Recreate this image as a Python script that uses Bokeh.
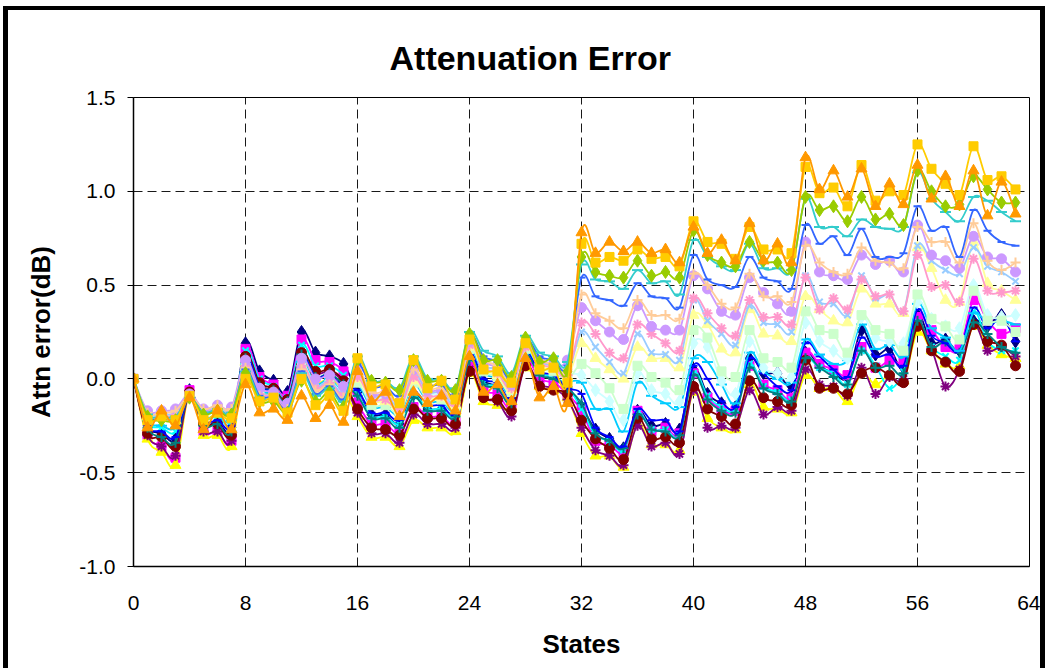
import numpy as np
from bokeh.plotting import figure
from bokeh.layouts import column
from bokeh.models import FixedTicker, NumeralTickFormatter, Range1d, ColumnDataSource
from bokeh.embed import file_html
from bokeh.resources import INLINE

states = list(range(64))
x_ticks = [0, 8, 16, 24, 32, 40, 48, 56, 64]
y_ticks = [-1.0, -0.5, 0.0, 0.5, 1.0, 1.5]

s01_navy = [0, -0.25, -0.29, -0.32, -0.06, -0.24, -0.23, -0.26,
            0.19, 0.04, -0.01, -0.07, 0.25, 0.14, 0.12, 0.08,
            -0.07, -0.19, -0.19, -0.24, -0.08, -0.16, -0.16, -0.19,
            0.12, -0.01, -0.04, -0.11, 0.13, 0.03, 0.01, -0.04,
            -0.15, -0.27, -0.32, -0.37, -0.17, -0.25, -0.24, -0.27,
            0.05, -0.08, -0.13, -0.15, 0.11, 0.03, 0.03, -0.04,
            0.14, 0.07, 0.03, 0.01, 0.26, 0.13, 0.16, 0.06,
            0.34, 0.19, 0.21, 0.15, 0.31, 0.28, 0.34, 0.20]
s02_magenta = [0, -0.30, -0.36, -0.42, -0.06, -0.28, -0.28, -0.33,
               0.16, 0.01, -0.03, -0.09, 0.21, 0.10, 0.09, 0.04,
               -0.13, -0.24, -0.24, -0.29, -0.15, -0.20, -0.20, -0.23,
               0.08, -0.06, -0.08, -0.15, 0.10, 0.00, -0.02, -0.08,
               -0.17, -0.33, -0.35, -0.39, -0.17, -0.28, -0.26, -0.29,
               0.03, -0.10, -0.16, -0.17, 0.07, -0.03, -0.06, -0.10,
               0.14, 0.08, 0.05, 0.02, 0.17, 0.06, 0.10, 0.10,
               0.33, 0.26, 0.17, 0.16, 0.42, 0.31, 0.24, 0.27]
s03_yellow = [0, -0.32, -0.39, -0.46, -0.08, -0.30, -0.30, -0.36,
              0.09, -0.06, -0.08, -0.14, 0.10, -0.02, 0.00, -0.06,
              -0.20, -0.31, -0.31, -0.36, -0.22, -0.26, -0.26, -0.28,
              0.03, -0.12, -0.14, -0.15, 0.06, -0.04, -0.06, -0.10,
              -0.29, -0.41, -0.41, -0.47, -0.24, -0.35, -0.35, -0.38,
              -0.07, -0.21, -0.26, -0.27, -0.03, -0.15, -0.16, -0.18,
              0.02, -0.05, -0.05, -0.12, 0.03, -0.03, 0.02, -0.01,
              0.25, 0.15, 0.08, 0.07, 0.28, 0.18, 0.13, 0.11]
s04_cyan = [0, -0.23, -0.26, -0.28, -0.07, -0.21, -0.20, -0.23,
            0.15, 0.00, -0.04, -0.10, 0.18, 0.07, 0.07, 0.02,
            -0.08, -0.20, -0.20, -0.24, -0.09, -0.16, -0.16, -0.19,
            0.11, -0.02, -0.04, -0.12, 0.12, 0.03, 0.01, -0.04,
            -0.16, -0.30, -0.33, -0.38, -0.18, -0.27, -0.27, -0.30,
            0.03, -0.09, -0.15, -0.16, 0.08, -0.04, -0.07, -0.11,
            0.10, 0.06, 0.03, -0.03, 0.15, 0.07, -0.05, 0.04,
            0.30, 0.17, 0.12, 0.10, 0.36, 0.20, 0.15, 0.15]
s05_purple = [0, -0.30, -0.36, -0.41, -0.08, -0.28, -0.28, -0.33,
              0.12, -0.03, -0.06, -0.12, 0.14, 0.03, 0.04, -0.02,
              -0.18, -0.29, -0.29, -0.34, -0.19, -0.24, -0.24, -0.26,
              0.05, -0.10, -0.12, -0.20, 0.07, -0.03, -0.05, -0.11,
              -0.26, -0.38, -0.41, -0.46, -0.25, -0.36, -0.34, -0.40,
              -0.06, -0.26, -0.25, -0.26, -0.06, -0.19, -0.15, -0.17,
              0.05, -0.03, -0.04, -0.09, 0.06, -0.08, 0.01, 0.00,
              0.29, 0.16, -0.04, 0.05, 0.29, 0.15, 0.17, 0.12]
s06_maroon = [0, -0.29, -0.31, -0.36, -0.07, -0.24, -0.24, -0.30,
              0.12, -0.02, -0.05, -0.11, 0.14, 0.04, 0.05, -0.01,
              -0.16, -0.26, -0.27, -0.30, -0.16, -0.21, -0.21, -0.24,
              0.04, -0.10, -0.11, -0.17, 0.07, -0.04, -0.06, -0.08,
              -0.22, -0.32, -0.37, -0.43, -0.21, -0.32, -0.31, -0.34,
              -0.04, -0.16, -0.20, -0.24, -0.01, -0.10, -0.12, -0.14,
              0.10, -0.05, -0.05, -0.08, 0.03, 0.06, 0.02, -0.02,
              0.28, 0.15, 0.09, 0.04, 0.29, 0.20, 0.18, 0.07]
s07_teal = [0, -0.26, -0.31, -0.34, -0.08, -0.25, -0.24, -0.28,
            0.11, -0.04, -0.06, -0.12, 0.13, 0.01, 0.03, -0.03,
            -0.09, -0.21, -0.21, -0.26, -0.10, -0.17, -0.17, -0.20,
            0.10, -0.03, -0.05, -0.13, 0.12, 0.02, 0.00, -0.05,
            -0.13, -0.29, -0.33, -0.37, -0.19, -0.27, -0.28, -0.30,
            0.02, -0.11, -0.17, -0.18, 0.06, -0.05, -0.08, -0.12,
            0.11, 0.06, 0.01, -0.03, 0.15, 0.06, 0.07, 0.03,
            0.31, 0.17, 0.20, 0.14, 0.30, 0.24, 0.17, 0.14]
s08_blue = [0, -0.25, -0.28, -0.31, -0.08, -0.23, -0.22, -0.25,
            0.11, -0.04, -0.07, -0.13, 0.12, 0.01, 0.02, -0.04,
            -0.06, -0.18, -0.18, -0.22, -0.07, -0.14, -0.14, -0.18,
            0.13, 0.00, -0.02, -0.10, 0.14, 0.04, 0.02, -0.05,
            -0.08, -0.26, -0.31, -0.36, -0.16, -0.22, -0.22, -0.28,
            0.07, 0.00, -0.12, -0.15, 0.11, 0.03, -0.04, -0.06,
            0.19, 0.12, 0.05, 0.01, 0.22, 0.12, 0.13, 0.07,
            0.37, 0.23, 0.19, 0.15, 0.38, 0.27, 0.33, 0.20]
s09_skyblue = [0, -0.22, -0.25, -0.26, -0.09, -0.21, -0.19, -0.22,
               0.08, -0.06, -0.08, -0.14, 0.09, -0.03, 0.00, -0.07,
               -0.03, -0.15, -0.15, -0.19, -0.03, -0.12, -0.12, -0.16,
               0.15, 0.03, 0.00, -0.08, 0.15, 0.06, 0.04, -0.01,
               -0.02, -0.16, -0.16, -0.28, -0.02, -0.09, -0.13, -0.15,
               0.11, 0.09, -0.03, -0.13, 0.14, 0.04, 0.00, -0.02,
               0.21, 0.13, 0.08, 0.10, 0.29, 0.16, 0.18, 0.12,
               0.40, 0.27, 0.22, 0.15, 0.35, 0.30, 0.31, 0.29]
s10_lightturq = [0, -0.19, -0.19, -0.19, -0.09, -0.17, -0.15, -0.17,
                 0.08, -0.07, -0.09, -0.15, 0.08, -0.04, -0.01, -0.07,
                 0.02, -0.10, -0.10, -0.15, 0.02, -0.08, -0.08, -0.12,
                 0.18, 0.07, 0.04, -0.04, 0.18, 0.09, 0.07, 0.03,
                 0.02, -0.06, -0.12, -0.22, 0.03, -0.06, -0.08, -0.12,
                 0.19, 0.17, -0.01, -0.08, 0.20, 0.06, 0.03, 0.01,
                 0.30, 0.20, 0.15, 0.11, 0.33, 0.22, 0.20, 0.19,
                 0.41, 0.32, 0.28, 0.27, 0.50, 0.34, 0.33, 0.34]
s11_lightgreen = [0, -0.19, -0.20, -0.20, -0.09, -0.18, -0.16, -0.18,
                  0.06, -0.09, -0.10, -0.16, 0.05, -0.06, -0.03, -0.10,
                  -0.02, -0.14, -0.14, -0.18, -0.02, -0.11, -0.11, -0.15,
                  0.16, 0.04, 0.01, -0.07, 0.16, 0.06, 0.04, 0.00,
                  0.08, 0.03, -0.05, -0.16, 0.07, 0.01, -0.02, -0.06,
                  0.26, 0.22, 0.04, 0.01, 0.26, 0.11, 0.09, 0.06,
                  0.36, 0.26, 0.24, 0.14, 0.34, 0.26, 0.24, 0.15,
                  0.45, 0.32, 0.28, 0.21, 0.47, 0.31, 0.31, 0.25]
s12_lightyellow = [0, -0.20, -0.21, -0.22, -0.09, -0.18, -0.17, -0.19,
                   0.06, -0.09, -0.10, -0.16, 0.05, -0.07, -0.03, -0.10,
                   0.00, -0.12, -0.12, -0.17, -0.01, -0.10, -0.10, -0.14,
                   0.17, 0.05, 0.02, -0.06, 0.17, 0.07, 0.05, 0.01,
                   0.19, 0.11, 0.05, 0.00, 0.17, 0.11, 0.11, 0.06,
                   0.34, 0.29, 0.16, 0.14, 0.37, 0.24, 0.23, 0.20,
                   0.44, 0.37, 0.31, 0.30, 0.48, 0.40, 0.40, 0.35,
                   0.70, 0.59, 0.42, 0.41, 0.73, 0.51, 0.47, 0.42]
s13_paleblue = [0, -0.18, -0.19, -0.18, -0.09, -0.17, -0.15, -0.16,
                0.08, -0.07, -0.09, -0.15, 0.07, -0.04, -0.01, -0.08,
                0.03, -0.09, -0.09, -0.14, 0.03, -0.07, -0.07, -0.12,
                0.19, 0.07, 0.05, -0.04, 0.18, 0.09, 0.07, 0.03,
                0.25, 0.17, 0.09, 0.03, 0.24, 0.14, 0.13, 0.10,
                0.42, 0.31, 0.24, 0.18, 0.39, 0.30, 0.29, 0.25,
                0.55, 0.41, 0.40, 0.34, 0.55, 0.43, 0.45, 0.36,
                0.71, 0.63, 0.58, 0.56, 0.70, 0.60, 0.57, 0.52]
s14_rose = [0, -0.19, -0.20, -0.19, -0.09, -0.17, -0.16, -0.17,
            0.07, -0.08, -0.09, -0.15, 0.07, -0.05, -0.02, -0.09,
            0.01, -0.11, -0.11, -0.16, 0.01, -0.09, -0.09, -0.13,
            0.18, 0.06, 0.03, -0.05, 0.17, 0.08, 0.06, 0.02,
            0.30, 0.24, 0.14, 0.11, 0.29, 0.24, 0.19, 0.15,
            0.43, 0.35, 0.27, 0.23, 0.42, 0.33, 0.33, 0.29,
            0.54, 0.37, 0.43, 0.37, 0.53, 0.44, 0.45, 0.36,
            0.66, 0.49, 0.50, 0.41, 0.64, 0.47, 0.46, 0.47]
s15_lavender = [0, -0.17, -0.17, -0.16, -0.08, -0.16, -0.14, -0.15,
                0.10, -0.05, -0.07, -0.13, 0.11, 0.00, 0.02, -0.04,
                0.05, -0.08, -0.08, -0.12, 0.05, -0.06, -0.06, -0.10,
                0.20, 0.09, 0.06, -0.03, 0.19, 0.10, 0.08, 0.10,
                0.38, 0.31, 0.25, 0.21, 0.39, 0.28, 0.26, 0.26,
                0.55, 0.48, 0.36, 0.34, 0.54, 0.46, 0.40, 0.36,
                0.73, 0.57, 0.55, 0.53, 0.66, 0.61, 0.63, 0.57,
                0.82, 0.66, 0.63, 0.59, 0.76, 0.65, 0.64, 0.57]
s16_tan = [0, -0.18, -0.18, -0.17, -0.09, -0.16, -0.14, -0.16,
           0.06, -0.09, -0.10, -0.16, 0.05, -0.06, -0.03, -0.10,
           0.05, -0.07, -0.07, -0.12, 0.05, -0.05, -0.05, -0.10,
           0.21, 0.10, 0.07, -0.02, 0.20, 0.10, 0.08, 0.05,
           0.45, 0.35, 0.31, 0.27, 0.42, 0.34, 0.34, 0.32,
           0.56, 0.50, 0.40, 0.38, 0.56, 0.44, 0.44, 0.41,
           0.71, 0.62, 0.57, 0.56, 0.70, 0.63, 0.62, 0.59,
           0.81, 0.73, 0.73, 0.62, 0.83, 0.63, 0.58, 0.62]
s17_lightblue = [0, -0.20, -0.21, -0.21, -0.10, -0.18, -0.17, -0.18,
                 0.05, -0.09, -0.10, -0.16, 0.04, -0.08, -0.04, -0.11,
                 0.08, -0.04, -0.04, -0.09, 0.09, -0.03, -0.03, -0.08,
                 0.23, 0.12, 0.09, 0.00, 0.21, 0.12, 0.10, 0.07,
                 0.54, 0.44, 0.42, 0.39, 0.51, 0.44, 0.43, 0.38,
                 0.66, 0.53, 0.50, 0.49, 0.65, 0.54, 0.52, 0.48,
                 0.82, 0.72, 0.76, 0.66, 0.80, 0.65, 0.65, 0.67,
                 0.92, 0.79, 0.81, 0.65, 0.90, 0.79, 0.73, 0.71]
s18_aqua = [0, -0.19, -0.20, -0.20, -0.10, -0.18, -0.16, -0.18,
            0.04, -0.10, -0.11, -0.17, 0.03, -0.09, -0.05, -0.12,
            0.12, -0.01, -0.01, -0.05, 0.12, 0.00, 0.00, -0.05,
            0.25, 0.15, 0.12, 0.03, 0.23, 0.14, 0.12, 0.09,
            0.61, 0.53, 0.52, 0.48, 0.58, 0.51, 0.52, 0.45,
            0.74, 0.65, 0.60, 0.58, 0.72, 0.59, 0.59, 0.58,
            0.96, 0.81, 0.81, 0.76, 0.85, 0.81, 0.80, 0.81,
            1.10, 0.96, 0.89, 0.84, 0.97, 0.95, 0.89, 0.84]
s19_lime = [0, -0.20, -0.22, -0.22, -0.10, -0.19, -0.17, -0.19,
            0.03, -0.12, -0.12, -0.18, -0.01, -0.12, -0.07, -0.15,
            0.10, -0.01, -0.02, -0.06, 0.10, -0.01, -0.01, -0.06,
            0.24, 0.10, 0.10, 0.01, 0.22, 0.09, 0.11, 0.04,
            0.65, 0.57, 0.55, 0.54, 0.63, 0.55, 0.57, 0.54,
            0.79, 0.66, 0.62, 0.60, 0.73, 0.63, 0.62, 0.58,
            0.97, 0.90, 0.92, 0.84, 0.97, 0.85, 0.88, 0.82,
            1.11, 1.00, 0.92, 0.93, 1.08, 1.01, 0.94, 0.94]
s20_gold = [0, -0.22, -0.20, -0.22, -0.09, -0.22, -0.18, -0.21,
            0.00, -0.12, -0.10, -0.18, 0.00, -0.14, -0.09, -0.17,
            0.11, -0.04, -0.03, -0.13, 0.10, -0.05, -0.01, -0.11,
            0.21, 0.05, 0.04, -0.02, 0.19, 0.05, 0.06, -0.02,
            0.72, 0.62, 0.65, 0.63, 0.69, 0.64, 0.65, 0.60,
            0.84, 0.73, 0.72, 0.64, 0.81, 0.69, 0.69, 0.67,
            1.13, 0.99, 1.02, 0.92, 1.14, 0.95, 1.00, 0.98,
            1.25, 1.12, 1.04, 0.98, 1.24, 1.06, 1.08, 1.01]
s21_orange = [0, -0.26, -0.17, -0.25, -0.10, -0.27, -0.17, -0.27,
              -0.03, -0.18, -0.16, -0.22, -0.09, -0.21, -0.14, -0.23,
              0.04, -0.12, -0.07, -0.20, -0.07, -0.13, -0.09, -0.17,
              0.12, -0.07, -0.03, -0.12, 0.11, -0.10, -0.04, -0.13,
              0.78, 0.67, 0.73, 0.68, 0.73, 0.67, 0.69, 0.62,
              0.81, 0.67, 0.74, 0.63, 0.83, 0.63, 0.72, 0.62,
              1.18, 1.01, 1.11, 0.97, 1.12, 0.92, 1.04, 0.93,
              1.14, 0.96, 1.08, 0.92, 1.11, 0.87, 1.05, 0.88]

series = [s01_navy, s02_magenta, s03_yellow, s04_cyan, s05_purple, s06_maroon,
          s07_teal, s08_blue, s09_skyblue, s10_lightturq, s11_lightgreen,
          s12_lightyellow, s13_paleblue, s14_rose, s15_lavender, s16_tan,
          s17_lightblue, s18_aqua, s19_lime, s20_gold, s21_orange]

colors = ["#000080", "#FF00FF", "#FFFF00", "#00FFFF", "#800080", "#800000",
          "#008080", "#0000FF", "#00CCFF", "#CCFFFF", "#CCFFCC", "#FFFF99",
          "#99CCFF", "#FF99CC", "#CC99FF", "#FFCC99", "#3366FF", "#33CCCC",
          "#99CC00", "#FFCC00", "#FF9900"]
marker_cycle = ["diamond", "square", "triangle", "x", "asterisk", "circle", "cross", "dash", "dash"]
size_cycle = [13, 9, 11, 9, 10, 10, 10, 8, 11]

FONT = "Liberation Sans"

# inner area between the black chart border lines: 1032 x 658
p = figure(width=1032, height=658, output_backend="svg", toolbar_location=None,
           x_range=Range1d(0, 64), y_range=Range1d(-1.0, 1.5),
           min_border_left=125, min_border_right=11, min_border_top=87, min_border_bottom=102)
p.background_fill_color = "white"
p.border_fill_color = "white"
p.outline_line_color = "black"
p.outline_line_width = 1

p.title.text = "Attenuation Error"
p.title.text_font = FONT
p.title.text_font_size = "34px"
p.title.text_font_style = "bold"
p.title.text_color = "black"
p.title.align = "left"
p.title.offset = 256
p.title.standoff = 41

for ax in (p.xaxis[0], p.yaxis[0]):
    ax.axis_line_color = "black"
    ax.axis_line_width = 1.5
    ax.major_label_text_font = FONT
    ax.major_label_text_font_size = "21px"
    ax.major_label_text_color = "black"
    ax.axis_label_text_font = FONT
    ax.axis_label_text_font_style = "bold"
    ax.axis_label_text_font_size = "26px"
    ax.axis_label_text_color = "black"
    ax.minor_tick_line_color = None

p.xaxis.ticker = FixedTicker(ticks=x_ticks)
p.xaxis.major_tick_out = 0
p.xaxis.major_tick_in = 0
p.xaxis.major_label_standoff = 29
p.xaxis.axis_label = "States"
p.xaxis.axis_label_standoff = 16

p.yaxis.ticker = FixedTicker(ticks=y_ticks)
p.yaxis.formatter = NumeralTickFormatter(format="0.0")
p.yaxis.major_tick_out = 6
p.yaxis.major_tick_in = 0
p.yaxis.major_tick_line_color = "black"
p.yaxis.major_label_standoff = 12
p.yaxis.axis_label = "Attn error(dB)"
p.yaxis.axis_label_standoff = 20

for g in (p.xgrid[0], p.ygrid[0]):
    g.grid_line_color = "black"
    g.grid_line_dash = "9 5"
    g.grid_line_width = 1
    g.grid_line_alpha = 0.9

xs = np.array(states, dtype=float)
for i, (ys_list, col) in enumerate(zip(series, colors)):
    ys = np.array(ys_list, dtype=float)
    n = len(ys)
    idx = np.arange(n - 1)
    i0 = np.clip(idx - 1, 0, n - 1)
    i3 = np.clip(idx + 2, 0, n - 1)
    src = ColumnDataSource(dict(
        x0=xs[idx], y0=ys[idx], x1=xs[idx + 1], y1=ys[idx + 1],
        cx0=xs[idx] + (xs[idx + 1] - xs[i0]) / 6.0,
        cy0=ys[idx] + (ys[idx + 1] - ys[i0]) / 6.0,
        cx1=xs[idx + 1] - (xs[i3] - xs[idx]) / 6.0,
        cy1=ys[idx + 1] - (ys[i3] - ys[idx]) / 6.0,
    ))
    p.bezier(x0="x0", y0="y0", x1="x1", y1="y1", cx0="cx0", cy0="cy0",
             cx1="cx1", cy1="cy1", source=src, line_color=col, line_width=1.8)
    m = marker_cycle[i % 9]
    sz = size_cycle[i % 9]
    lw = 2 if m in ("x", "asterisk", "cross", "dash") else 1
    p.scatter(xs, ys, marker=m, size=sz, fill_color=col, line_color=col, line_width=lw)

root = column(p, styles={"border-top": "4px solid black",
                         "border-left": "5px solid black",
                         "border-right": "5px solid black",
                         "margin-left": "3px",
                         "margin-top": "6px"})

open("out.html", "w").write(file_html(root, INLINE))
